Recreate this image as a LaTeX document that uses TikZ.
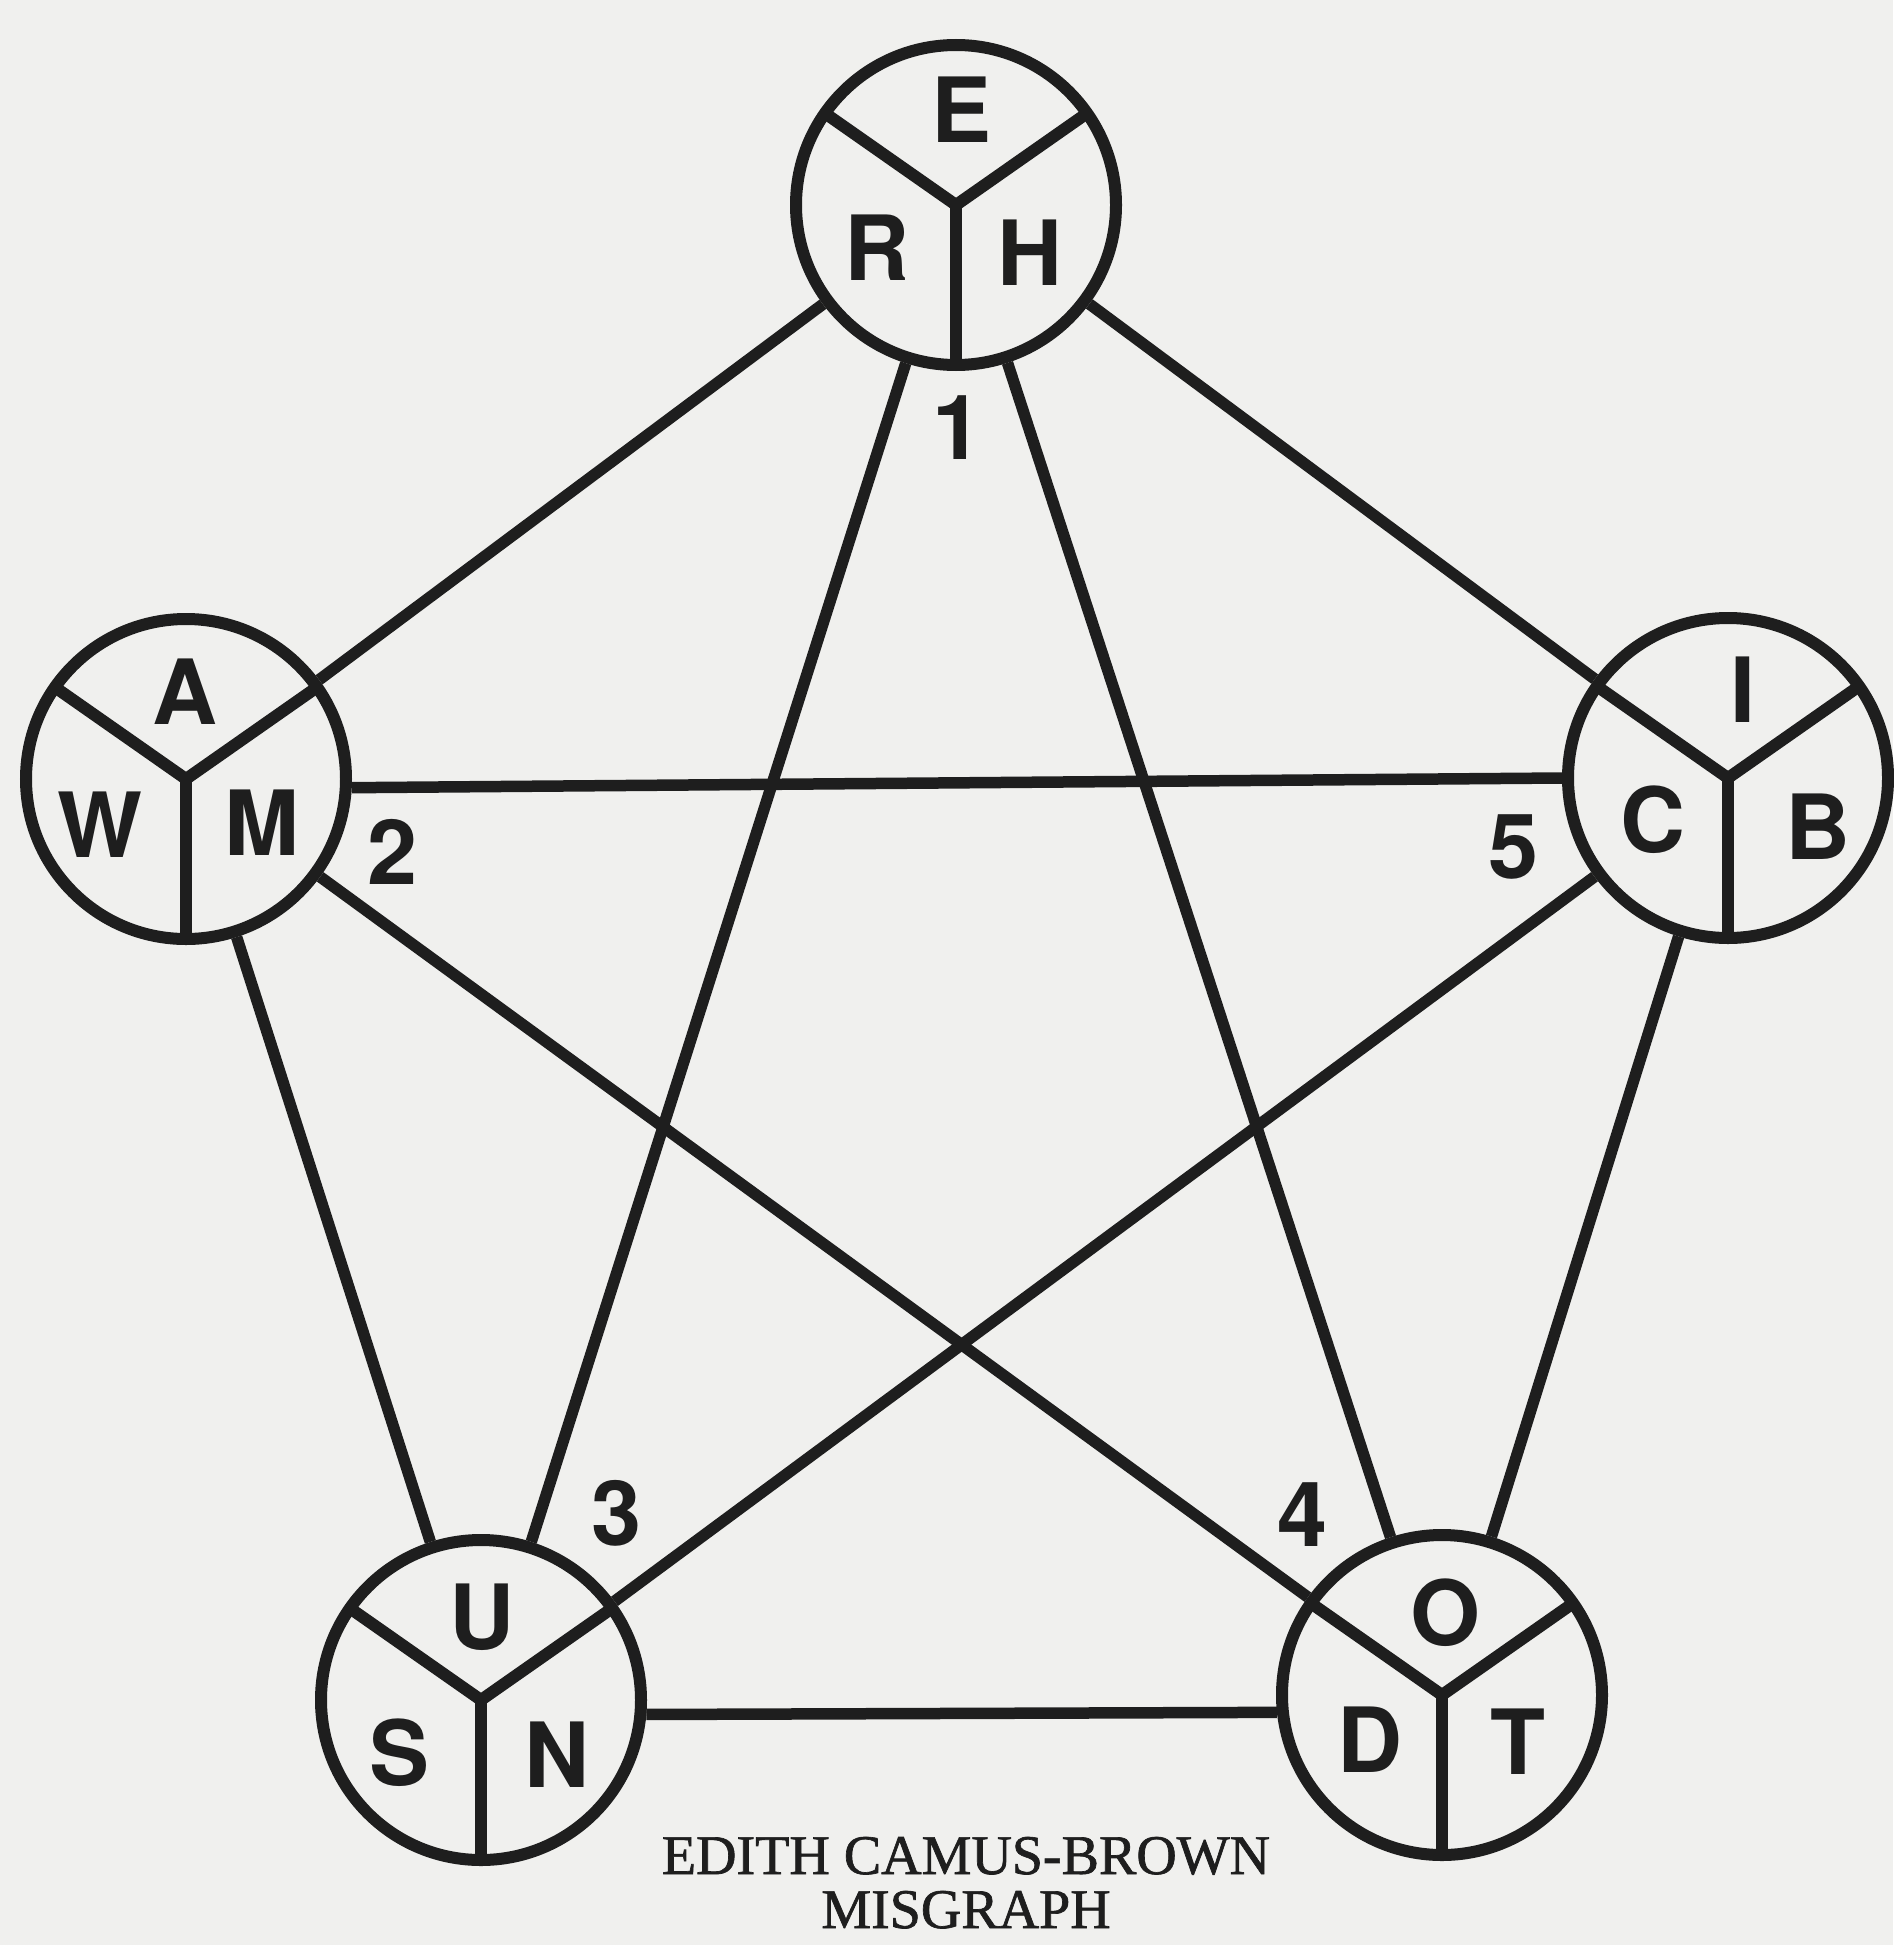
\documentclass[tikz,border=0pt]{standalone}
\usepackage{fontspec}
\setmainfont{Liberation Serif}
\setsansfont{TeX Gyre Heros}
\newfontfamily\capfont{Liberation Serif}[FakeBold=1.2]
\definecolor{paper}{RGB}{240,240,238}
\definecolor{ink}{RGB}{30,30,30}
\begin{document}
\begin{tikzpicture}[x=1pt,y=-1pt,
  ring/.style={circle, draw=ink, line width=12pt, minimum size=320pt, inner sep=0pt},
  link/.style={draw=ink, line width=11.5pt},
  spoke/.style={draw=ink, line width=12pt},
  letter/.style={text=ink, font=\fontsize{90}{90}\selectfont\sffamily\bfseries, inner sep=0pt},
  captxt/.style={text=ink, font=\fontsize{56}{62}\selectfont\capfont, inner sep=0pt, anchor=base}]
\fill[paper] (0,0) rectangle (1893,1945);
\useasboundingbox (0,0) rectangle (1893,1945);

% circles
\node[ring] (n1) at (956,205) {};
\node[ring] (n2) at (186,779) {};
\node[ring] (n5) at (1728,778) {};
\node[ring] (n3) at (481,1700) {};
\node[ring] (n4) at (1442,1695) {};

% spokes
\foreach \n in {n1,n2,n3,n4,n5}{
  \draw[spoke] (\n.center) -- ++(145:160pt);
  \draw[spoke] (\n.center) -- ++(35:160pt);
  \draw[spoke] (\n.center) -- ++(270:160pt);
}

% connectors
\path[link] (n1) -- (n2);
\path[link] (n1) -- (n5);
\path[link] (n1) -- (n3);
\path[link] (n1) -- (n4);
\path[link] (n2.-3) -- (n5.180);
\path[link] (n2) -- (n3);
\path[link] (n2) -- (n4);
\path[link] (n5) -- (n3);
\path[link] (n5) -- (n4);
\path[link] (n3.-5) -- (n4.186);

% letters
\node[letter] (lE) at (962,110) {E};
\node[letter] (lR) at (877,248) {R};
\node[letter] (lH) at (1030,253) {H};
\node[letter] (lA) at (185,692) {A};
\node[letter] (lW) at (100,825) {W};
\node[letter] (lM) at (262,823) {M};
\node[letter] (lI) at (1743,690) {I};
\node[letter] (lC) at (1653,820) {C};
\node[letter] (lB) at (1818,827) {B};
\node[letter] (lU) at (482,1617) {U};
\node[letter] (lS) at (400,1753) {S};
\node[letter] (lN) at (557,1755) {N};
\node[letter] (lO) at (1445,1613) {O};
\node[letter] (lD) at (1370,1740) {D};
\node[letter] (lT) at (1518,1742) {T};

% numbers
\node[letter] (k1) at (958,428) {1};
\node[letter] (k2) at (393,852) {2};
\node[letter] (k3) at (617,1513) {3};
\node[letter] (k4) at (1303,1515) {4};
\node[letter] (k5) at (1513,847) {5};

% caption
\node[captxt] (cap1) at (966,1874) {EDITH CAMUS-BROWN};
\node[captxt] (cap2) at (966,1928) {MISGRAPH};
\end{tikzpicture}
\end{document}
